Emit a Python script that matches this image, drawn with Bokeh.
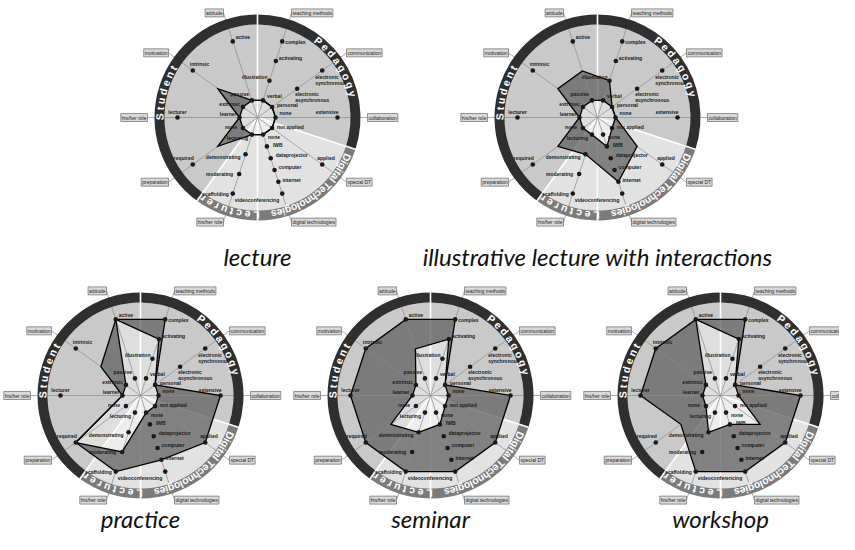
import math
from bokeh.plotting import figure
from bokeh.models import Range1d
from bokeh.embed import file_html
from bokeh.resources import INLINE
from bokeh.core.properties import value

# ---------------- data ----------------
titles = ["lecture", "illustrative lecture with interactions", "practice", "seminar", "workshop"]

spoke_labels = ["teaching methods", "communication", "collaboration", "special DT",
                "digital technologies", "his/her role", "preparation", "his/her role",
                "motivation", "attitude"]

level_labels = [
    ["verbal", "illustration", "activating", "complex"],
    ["personal", "electronic\nasynchronous", "electronic\nsynchronous"],
    ["none", "extensive"],
    ["not applied", "applied"],
    ["none", "IWB", "dataprojector", "computer", "internet", "videoconferencing"],
    ["lecturing", "demonstrating", "moderating", "scaffolding"],
    ["none", "required"],
    ["learner", "lecturer"],
    ["extrinsic", "intrinsic"],
    ["passive", "active"],
]

group_names = ["P e d a g o g y", "Digital Technologies", "L e c t u r e r", "S t u d e n t"]
group_sizes = [3, 2, 1, 4]

lecture_min = [0, 0, 0, 0, 0, 0, 0, 0, 0, 0]
lecture_max = [0, 0, 0, 0, 0, 0, 0.5, 0, 0.5, 0]
illustrative_min = [0, 0, 0, 0, 1, 0, 0, 0, 0, 0]
illustrative_max = [1, 0, 0, 0.5, 4, 1, 0.5, 0, 0.5, 0.5]
practice_min = [2, 0, 0, 0, 0, 2, 1, 0, 0, 1]
practice_max = [3, 0, 1, 1, 4, 3, 1, 0, 0.5, 1]
seminar_min = [2, 0, 0, 0, 1, 1, 0.5, 0, 0, 0.5]
seminar_max = [3, 0, 1, 1, 5, 3, 1, 1, 1, 1]
workshop_min = [2, 0, 0, 0.5, 1, 1, 0, 0, 0, 1]
workshop_max = [3, 0, 1, 1, 5, 3, 0.5, 1, 1, 1]

chart_min = [lecture_min, illustrative_min, practice_min, seminar_min, workshop_min]
chart_max = [lecture_max, illustrative_max, practice_max, seminar_max, workshop_max]

# ---------------- layout / style ----------------
W, H = 839, 534
PAGE_H = 550
centers = [(257, 117), (597, 117), (140, 395), (430, 395), (720, 395)]
caption_mid = [256, 256, 518, 518, 518]
R0, R1 = 18, 80
R_DISK = 93
R_RING = 103
R_TEXT = 98
R_BOX = 110
START, STEP = 18, 36
ring_text_center = [57, 142, 197, 285]
sector_fill = ["#c9c9c9", "#e2e2e2", "#e2e2e2", "#c9c9c9"]
ring_fill = ["#2f2f2f", "#7b7b7b", "#7b7b7b", "#2f2f2f"]

# label offsets (px): dx, dy(down), align
label_style = [
    [(4, -4, 'left'), (-2, -4, 'right'), (3, -3, 'left'), (3, 1, 'left')],
    [(5, -2, 'left'), (-2, 8, 'left'), (-7, 9.5, 'left')],
    [(4, -5, 'left'), (1, -6, 'right')],
    [(5, -1, 'left'), (-5, -7, 'left')],
    [(5, 2, 'left'), (6, -1, 'left'), (5, -3, 'left'), (4, -3, 'left'), (4, -2, 'left'), (-3, 6, 'right')],
    [(-4, 3, 'right'), (-5, 3, 'right'), (-6, 0, 'right'), (-4, 0, 'right')],
    [(-6, -1, 'right'), (1, -7, 'right')],
    [(-3, -4, 'right'), (0, -6, 'center')],
    [(-3, -3, 'right'), (-3, -6, 'left')],
    [(-3, -6, 'right'), (3, -4, 'left')],
]

CW = {' ': 278, 'S': 667, 't': 333, 'u': 611, 'd': 611, 'e': 556, 'n': 611, 'P': 667,
      'a': 556, 'g': 611, 'o': 611, 'y': 556, 'D': 722, 'i': 278, 'l': 278, 'T': 611,
      'c': 556, 'h': 611, 's': 556, 'L': 611, 'r': 389}


def pt(c, theta, r):
    cx, cy = c
    t = math.radians(theta)
    return cx + r * math.sin(t), (PAGE_H - cy) + r * math.cos(t)


def level_r(v, n):
    return R0 + (R1 - R0) * v / (n - 1)


p = figure(width=W, height=H, x_range=Range1d(0, W), y_range=Range1d(PAGE_H - H, PAGE_H),
           output_backend="svg", toolbar_location=None, min_border=0,
           x_axis_location=None, y_axis_location=None)
p.xgrid.visible = False
p.ygrid.visible = False
p.outline_line_color = None
p.background_fill_color = "white"
p.border_fill_color = "white"

nsp = len(spoke_labels)
thetas = [START + STEP * i for i in range(nsp)]

for ci, c in enumerate(centers):
    cx, cyd = c[0], PAGE_H - c[1]
    # sectors
    bounds = []
    k = 0
    for g, sz in enumerate(group_sizes):
        a = STEP * k
        b = STEP * (k + sz)
        bounds.append(a)
        p.wedge(x=cx, y=cyd, radius=R_DISK, start_angle=math.radians(90 - b),
                end_angle=math.radians(90 - a), fill_color=sector_fill[g], line_color=None)
        k += sz
    # white boundary lines
    bx0, by0, bx1, by1 = [], [], [], []
    for a in bounds:
        x1, y1 = pt(c, a, R_DISK)
        bx0.append(cx); by0.append(cyd); bx1.append(x1); by1.append(y1)
    p.segment(x0=bx0, y0=by0, x1=bx1, y1=by1, line_color="white", line_width=1.6)

    # polygons
    ox, oy, ix, iy = [], [], [], []
    for i in range(nsp):
        n = len(level_labels[i])
        x, y = pt(c, thetas[i], level_r(chart_max[ci][i], n))
        ox.append(x); oy.append(y)
        x, y = pt(c, thetas[i], level_r(chart_min[ci][i], n))
        ix.append(x); iy.append(y)
    p.multi_polygons(xs=[[[ox, ix[::-1]]]], ys=[[[oy, iy[::-1]]]], fill_color="#606060",
                     fill_alpha=0.75, line_color=None)
    p.patch(ix, iy, fill_color="white", fill_alpha=0.4, line_color=None)

    # spokes
    sx, sy = [], []
    for th in thetas:
        x, y = pt(c, th, R_BOX)
        sx.append(x); sy.append(y)
    p.segment(x0=[cx] * nsp, y0=[cyd] * nsp, x1=sx, y1=sy, line_color="#8a8a8a", line_width=0.7)

    # outlines
    p.patch(ox, oy, fill_color=None, line_color="black", line_width=1.3, line_join="miter")
    p.patch(ix, iy, fill_color=None, line_color="black", line_width=1.3, line_join="miter")

    # ring
    k = 0
    for g, sz in enumerate(group_sizes):
        a = STEP * k
        b = STEP * (k + sz)
        p.annular_wedge(x=cx, y=cyd, inner_radius=R_DISK, outer_radius=R_RING,
                        start_angle=math.radians(90 - b), end_angle=math.radians(90 - a),
                        fill_color=ring_fill[g], line_color=None)
        k += sz
    gx0, gy0, gx1, gy1 = [], [], [], []
    for a in bounds:
        x0, y0 = pt(c, a, R_DISK - 0.5)
        x1, y1 = pt(c, a, R_RING + 0.5)
        gx0.append(x0); gy0.append(y0); gx1.append(x1); gy1.append(y1)
    p.segment(x0=gx0, y0=gy0, x1=gx1, y1=gy1, line_color="white", line_width=1.6)

    # ring text
    size = 10.5
    tx, ty, ta, tt = [], [], [], []
    for g, name in enumerate(group_names):
        total = sum(CW.get(ch, 556) for ch in name) * size / 1000.0
        start = ring_text_center[g] - math.degrees(total / R_TEXT) / 2
        acc = 0.0
        for ch in name:
            w = CW.get(ch, 556) * size / 1000.0
            th = start + math.degrees((acc + w / 2) / R_TEXT)
            acc += w
            if ch == ' ':
                continue
            x, y = pt(c, th, R_TEXT)
            tx.append(x); ty.append(y); ta.append(-math.radians(th)); tt.append(ch)
    p.text(x=tx, y=ty, text=tt, angle=ta, text_align="center", text_baseline="middle",
           text_color="white", text_font=value("Liberation Sans"), text_font_style="bold",
           text_font_size="10.5px")

    # points and labels
    px_, py_ = [], []
    lab = {'left': ([], [], []), 'right': ([], [], []), 'center': ([], [], [])}
    for i in range(nsp):
        n = len(level_labels[i])
        for j in range(n):
            x, y = pt(c, thetas[i], level_r(j, n))
            px_.append(x); py_.append(y)
            dx, dy, al = label_style[i][j]
            L = lab[al]
            L[0].append(x + dx); L[1].append(y - dy); L[2].append(level_labels[i][j])
    p.scatter(px_, py_, size=4.6, fill_color="#1a1a1a", line_color=None)
    for al, L in lab.items():
        if L[0]:
            p.text(x=L[0], y=L[1], text=L[2], text_align=al, text_baseline="middle",
                   text_color="#1a1a1a", text_font=value("Liberation Sans"),
                   text_font_style="bold", text_font_size="5px", text_line_height=1.05)

    # boxes
    for side in ('left', 'right'):
        bxs, bys, bts = [], [], []
        for i, th in enumerate(thetas):
            al = 'left' if th < 180 else 'right'
            if al != side:
                continue
            x, y = pt(c, th, R_BOX)
            bxs.append(x); bys.append(y); bts.append(spoke_labels[i])
        p.text(x=bxs, y=bys, text=bts, text_align=side, text_baseline="middle",
               text_color="#222222", text_font=value("Liberation Sans"), text_font_size="5px",
               background_fill_color="#d9d9d9", border_line_color="#555555",
               border_line_width=0.6, padding=1)

    # caption
    p.text(x=[cx], y=[PAGE_H - caption_mid[ci]], text=[titles[ci]], text_align="center",
           text_baseline="middle", text_color="#111111", text_font=value("Lato"),
           text_font_style="italic", text_font_size="24px")

open("out.html", "w").write(file_html(p, INLINE))
